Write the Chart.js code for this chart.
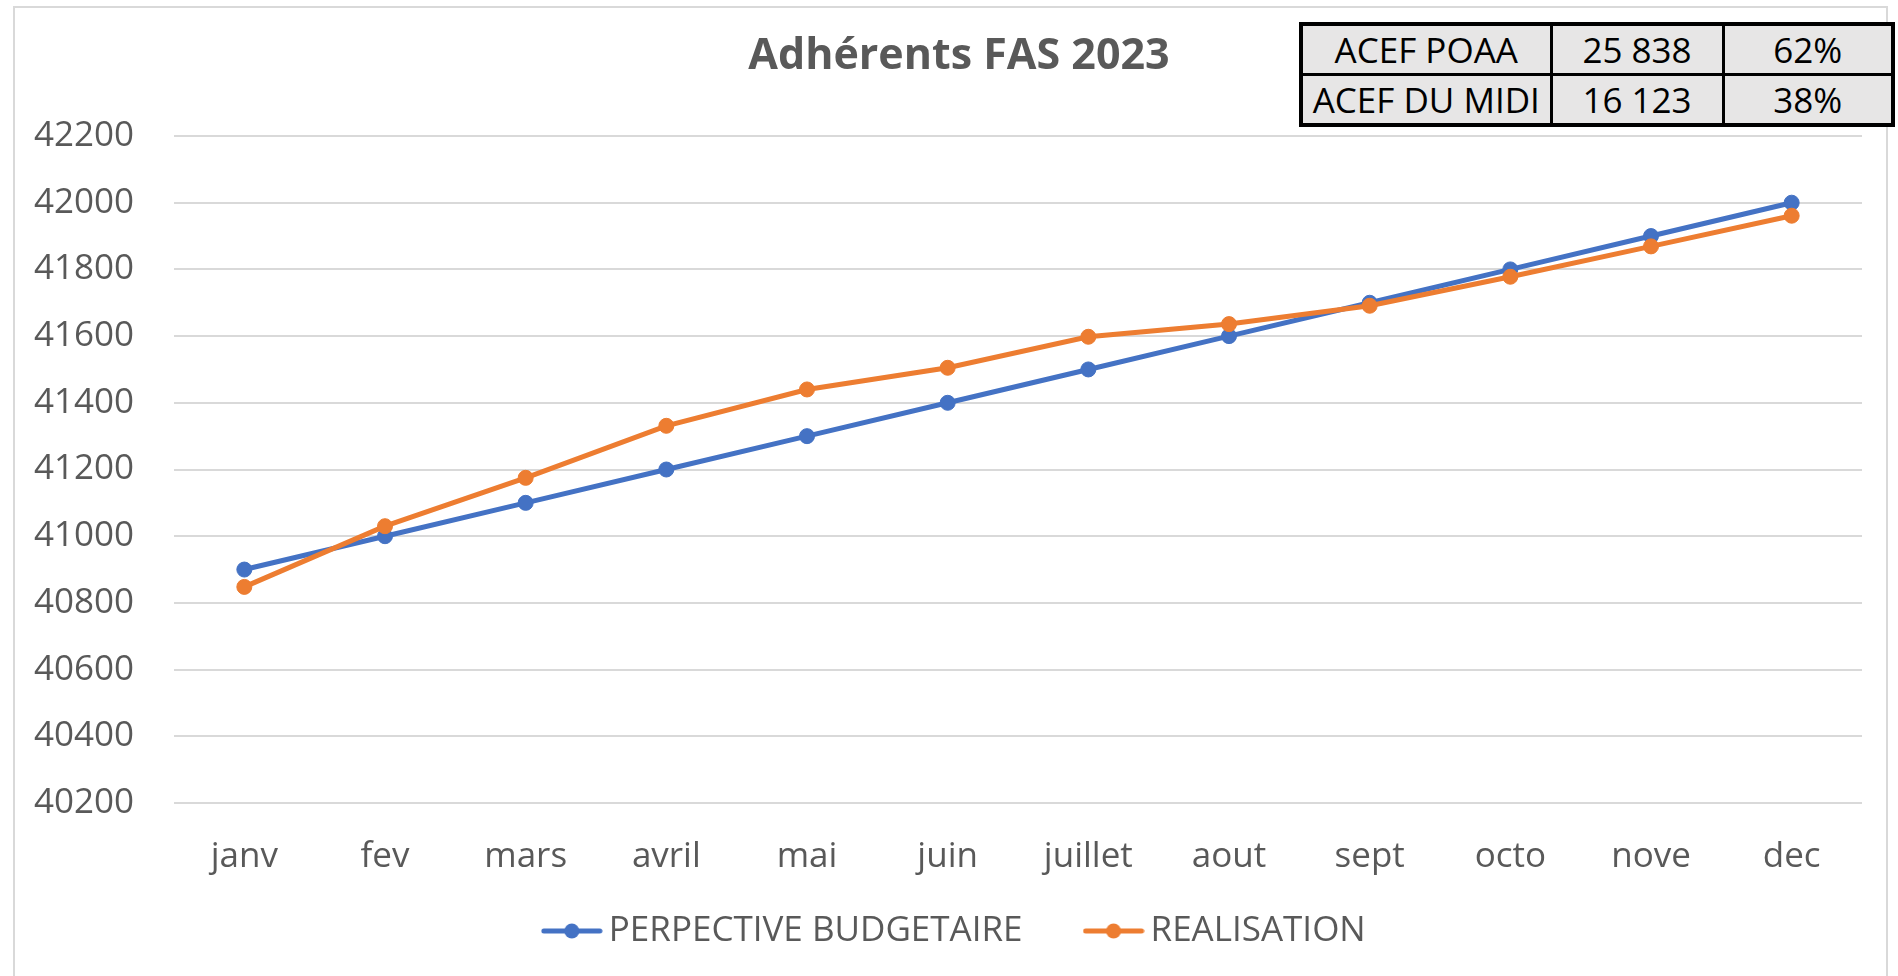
<!DOCTYPE html>
<html>
<head>
<meta charset="utf-8">
<script src="https://cdn.jsdelivr.net/npm/chart.js@4/dist/chart.umd.min.js"></script>
<style>
  html, body { margin: 0; padding: 0; background: #ffffff; }
  #wrap { position: relative; width: 1898px; height: 976px; overflow: hidden; background: #ffffff; }
  #chart { position: absolute; left: 0; top: 0; }
  #tbl {
    position: absolute; left: 1299px; top: 22px; width: 592px; height: 105px;
    border-collapse: collapse; border: 4px solid #000; background: #e7e6e6;
    font-family: "Open Sans", sans-serif; font-size: 35px; color: #000; table-layout: fixed;
  }
  #tbl td { border: 3px solid #000; text-align: center; padding: 0; line-height: 44px; white-space: nowrap; }
</style>
</head>
<body>
<div id="wrap">
  <canvas id="chart" width="1898" height="976"></canvas>
  <table id="tbl"><colgroup><col style="width:250px"><col style="width:172px"><col style="width:170px"></colgroup><tbody></tbody></table>
</div>
<script>
// ---- data ----
const chartTitle = 'Adhérents FAS 2023';
const months = ['janv', 'fev', 'mars', 'avril', 'mai', 'juin', 'juillet', 'aout', 'sept', 'octo', 'nove', 'dec'];
const budgetLabel = 'PERPECTIVE BUDGETAIRE';
const budgetValues = [40900, 41000, 41100, 41200, 41300, 41400, 41500, 41600, 41700, 41800, 41900, 42000];
const realLabel = 'REALISATION';
const realValues = [40848, 41030, 41175, 41331, 41440, 41505, 41598, 41636, 41691, 41778, 41869, 41961];
const yMin = 40200, yMax = 42200, yStep = 200;
const tableNames = ['ACEF POAA', 'ACEF DU MIDI'];
const tableCounts = ['25 838', '16 123'];
const tableShares = ['62%', '38%'];

// ---- table ----
const tbody = document.querySelector('#tbl tbody');
tableNames.forEach((n, i) => {
  const tr = document.createElement('tr');
  [n, tableCounts[i], tableShares[i]].forEach(t => {
    const td = document.createElement('td');
    td.textContent = t;
    tr.appendChild(td);
  });
  tbody.appendChild(tr);
});

// ---- chart ----
const BLUE = '#4472C4', ORANGE = '#ED7D31', TXT = '#595959';
function legendImg(color) {
  const c = document.createElement('canvas');
  c.width = 62; c.height = 18;
  const g = c.getContext('2d');
  g.strokeStyle = color; g.lineWidth = 5; g.lineCap = 'round';
  g.beginPath(); g.moveTo(3, 9); g.lineTo(59, 9); g.stroke();
  g.fillStyle = color;
  g.beginPath(); g.arc(31, 9, 7.5, 0, Math.PI * 2); g.fill();
  return c;
}
const legendImgs = [legendImg(BLUE), legendImg(ORANGE)];

const borderPlugin = {
  id: 'outerBorder',
  beforeDraw(chart) {
    // let tick labels extend beyond the (narrow) scale boxes without clipping
    Object.values(chart.scales).forEach(s => { s._computeLabelArea = () => undefined; });
    const ctx = chart.ctx;
    ctx.save();
    ctx.fillStyle = '#ffffff';
    ctx.fillRect(0, 0, chart.width, chart.height);
    ctx.strokeStyle = '#d9d9d9';
    ctx.lineWidth = 2;
    ctx.strokeRect(14, 7, 1873, 1000);
    ctx.restore();
  }
};

Chart.defaults.font.family = '"Open Sans", sans-serif';
Chart.defaults.color = TXT;

new Chart(document.getElementById('chart'), {
  type: 'line',
  data: {
    labels: months,
    datasets: [
      { label: budgetLabel, data: budgetValues, borderColor: BLUE, backgroundColor: BLUE,
        pointBackgroundColor: BLUE, pointBorderColor: BLUE, borderWidth: 5, pointRadius: 7.5,
        pointBorderWidth: 1, tension: 0, order: 1 },
      { label: realLabel, data: realValues, borderColor: ORANGE, backgroundColor: ORANGE,
        pointBackgroundColor: ORANGE, pointBorderColor: ORANGE, borderWidth: 5, pointRadius: 7.5,
        pointBorderWidth: 1, tension: 0, order: 0 }
    ]
  },
  options: {
    responsive: false,
    animation: false,
    devicePixelRatio: 1,
    layout: { padding: { left: 56, right: 36, top: 0, bottom: 17.5 } },
    plugins: {
      tooltip: { enabled: false },
      title: {
        display: true, text: chartTitle, color: TXT,
        font: { size: 43, weight: 'bold' },
        padding: { top: 31, bottom: 53.4 }
      },
      legend: {
        position: 'bottom',
        labels: {
          usePointStyle: true, pointStyleWidth: 39, padding: 71.5,
          color: TXT, font: { size: 35 },
          generateLabels(chart) {
            const items = Chart.defaults.plugins.legend.labels.generateLabels(chart);
            items.sort((a, b) => a.datasetIndex - b.datasetIndex);
            items.forEach(it => { it.pointStyle = legendImgs[it.datasetIndex]; });
            return items;
          }
        }
      }
    },
    scales: {
      x: {
        offset: true,
        grid: { display: false, drawTicks: false },
        border: { display: false },
        ticks: { font: { size: 35 }, color: TXT, padding: 33, maxRotation: 0, autoSkip: false },
        afterFit(scale) { scale.height = 39; }
      },
      y: {
        min: yMin, max: yMax,
        grid: { color: '#d9d9d9', lineWidth: 2, drawTicks: false },
        border: { display: false },
        ticks: { stepSize: yStep, font: { size: 35 }, color: TXT, padding: 40,
                 callback: v => String(v) },
        afterFit(scale) { scale.width = 174 - 56; }
      }
    }
  },
  plugins: [borderPlugin]
});
</script>
</body>
</html>
